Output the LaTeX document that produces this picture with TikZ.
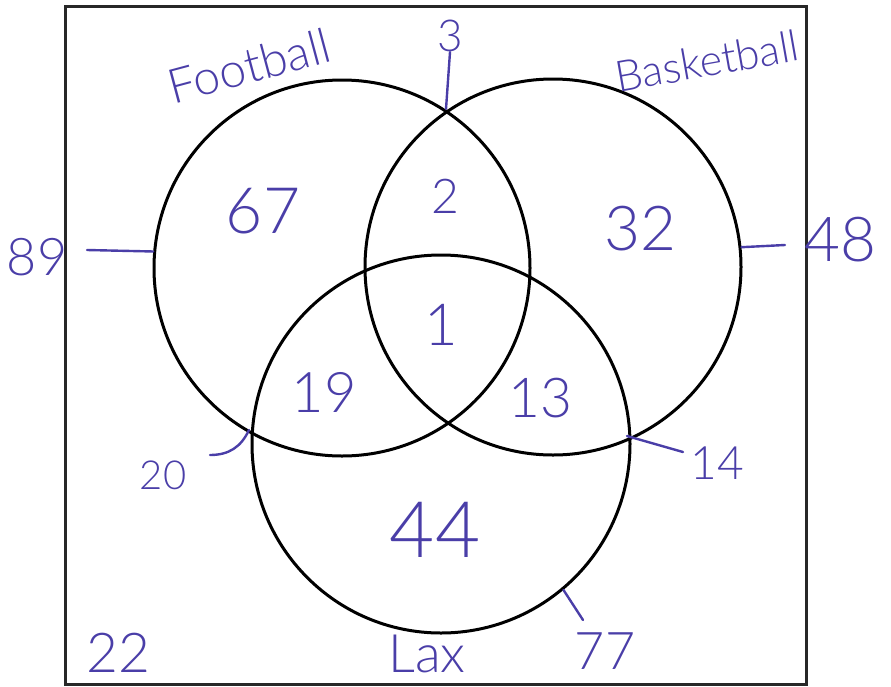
\documentclass[tikz,border=0pt]{standalone}
\usepackage{fontspec}
\IfFontExistsTF{Lato Light}{\setmainfont{Lato Light}}{\setmainfont{Lato}}
\definecolor{pen}{RGB}{74,62,168}
\definecolor{framecol}{RGB}{40,40,40}
\newcommand\hsz[1]{\fontsize{#1}{#1}\selectfont}
\begin{document}
\begin{tikzpicture}[x=1pt,y=-1pt,
  ring/.style={circle,draw=black,line width=3pt,minimum size=376pt,inner sep=0pt},
  hand/.style={text=pen,inner sep=0pt},
  tick/.style={draw=pen,line width=2.4pt,line cap=round}]
\useasboundingbox (0,0) rectangle (891,686);
\node[draw=framecol,line width=3pt,minimum width=741pt,minimum height=678pt,inner sep=0pt] (box) at (435.5,345) {};
% circles
\node[ring] (F) at (342,268) {};
\node[ring] (B) at (553,267) {};
\node[ring,minimum size=378pt] (L) at (441,444) {};
% set names
\node[hand,font=\hsz{48},rotate=15] (tF) at (249,66) {Football};
\node[hand,font=\hsz{43},rotate=10] (tB) at (707,61) {Basketball};
\node[hand,font=\hsz{53}] (tL) at (427,654) {Lax};
% region counts
\node[hand,font=\hsz{64}] (n67) at (263,211) {67};
\node[hand,font=\hsz{48}] (n2) at (445,196) {2};
\node[hand,font=\hsz{62}] (n32) at (640,229) {32};
\node[hand,font=\hsz{58}] (n1) at (441,325) {1};
\node[hand,font=\hsz{56}] (n19) at (324,392) {19};
\node[hand,font=\hsz{55}] (n13) at (540,398) {13};
\node[hand,font=\hsz{78}] (n44) at (435,530) {44};
\node[hand,font=\hsz{55}] (n22) at (118,653) {22};
% outside labels
\node[hand,font=\hsz{44}] (t3) at (450,36) {3};
\node[hand,font=\hsz{52}] (t89) at (37,257) {89};
\node[hand,font=\hsz{62}] (t48) at (840,240) {48};
\node[hand,font=\hsz{40}] (t20) at (163,475) {20};
\node[hand,font=\hsz{46}] (t14) at (717,463) {14};
\node[hand,font=\hsz{52}] (t77) at (605,651) {77};
% connector ends
\coordinate (i3) at (446,109);
\coordinate (i20) at (249,430);
\coordinate (i14) at (627,436);
\coordinate (c89) at (87,250);
\coordinate (c48) at (785,245);
\coordinate (c20) at (210,455);
\coordinate (c14) at (683,452);
\coordinate (c77) at (583,620);
% connectors
\draw[tick] (i3) -- (t3.south);
\draw[tick] (F.175) -- (c89);
\draw[tick] (B.6) -- (c48);
\draw[tick] (i20) .. controls (241,447) and (229,455) .. (c20);
\draw[tick] (i14) -- (c14);
\draw[tick] (L.-50) -- (c77);
\end{tikzpicture}
\end{document}
